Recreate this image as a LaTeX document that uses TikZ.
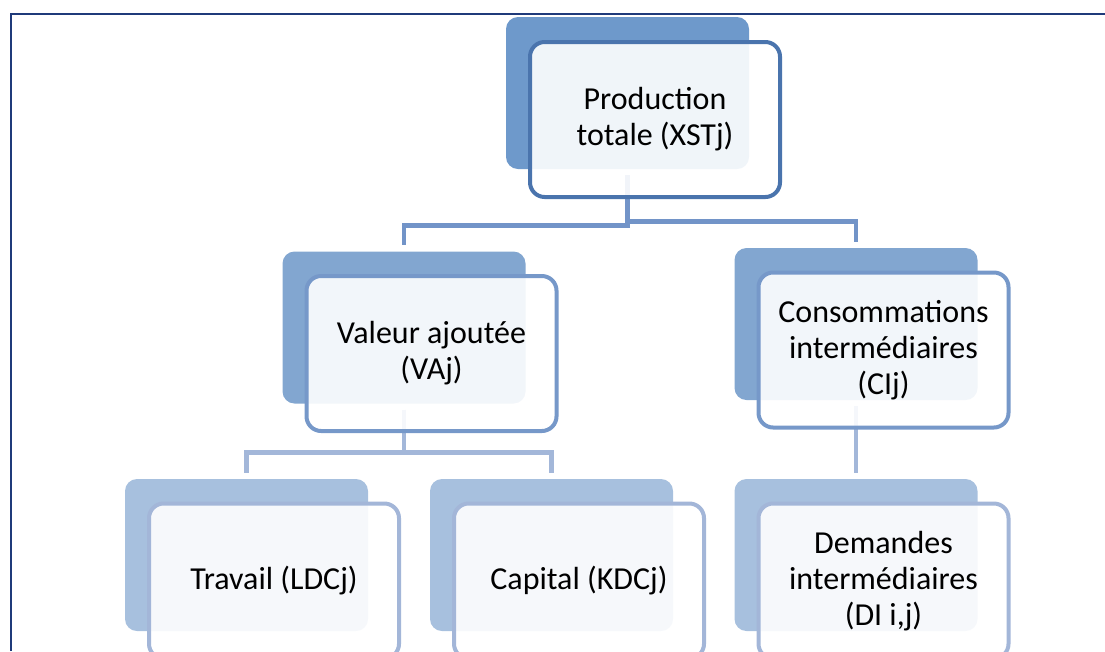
\documentclass[tikz,border=0pt]{standalone}
\usepackage{fontspec}
\setmainfont{Carlito}
\usetikzlibrary{calc}
\definecolor{frame}{HTML}{1F3A7A}
\definecolor{backA}{HTML}{6E99CB}
\definecolor{lineA}{HTML}{4A74AD}
\definecolor{backB}{HTML}{82A6D0}
\definecolor{lineB}{HTML}{7698C9}
\definecolor{backC}{HTML}{A7C0DE}
\definecolor{lineC}{HTML}{A3B6D8}
\definecolor{connA}{HTML}{7294C8}
\definecolor{connB}{HTML}{A3B7D9}
\begin{document}
\begin{tikzpicture}[x=0.75pt,y=-0.75pt,
 backbox/.style={rectangle, rounded corners=9pt, minimum width=182.25pt, minimum height=114pt, inner sep=0pt},
 frontbox/.style={rectangle, rounded corners=11pt, minimum width=187.5pt, minimum height=116.25pt, inner sep=0pt, line width=3pt, fill=white, fill opacity=0.9, text opacity=1, align=center, font=\fontsize{24}{27}\selectfont, text=black},
 conn/.style={line width=3.5pt}]
\useasboundingbox (0,0) rectangle (1105,651);
\begin{scope}
\clip (0,0) rectangle (1105,651);
\draw[frame, line width=1.5pt] (11,651) -- (11,14) -- (1105,14);
% back boxes
\node[backbox, fill=backA] (tb) at (627.5,93) {};
\node[backbox, fill=backB] (vb) at (404,327.5) {};
\node[backbox, fill=backB] (cb) at (856,324) {};
\node[backbox, fill=backC] (trb) at (246.5,555) {};
\node[backbox, fill=backC] (kb) at (551.5,555) {};
\node[backbox, fill=backC] (dib) at (856,555) {};
% connectors
\draw[conn, connA] ($(tb.south)+(0,6)$) |- ($(vb.north)+(0,-26)$) -- ($(vb.north)+(0,-6)$);
\draw[conn, connA] ($(tb.south)+(0,6)$) |- ($(cb.north)+(0,-26)$) -- ($(cb.north)+(0,-6)$);
\draw[conn, connB] ($(vb.south)+(0,6)$) |- ($(trb.north)+(0,-26)$) -- ($(trb.north)+(0,-6)$);
\draw[conn, connB] ($(vb.south)+(0,6)$) |- ($(kb.north)+(0,-26)$) -- ($(kb.north)+(0,-6)$);
\draw[conn, connB] ($(cb.south)+(0,6)$) -- ($(dib.north)+(0,-6)$);
% front boxes
\node[frontbox, draw=lineA] (t) at (655,119.5) {Production\\totale (XSTj)};
\node[frontbox, draw=lineB] (v) at (431.5,353.5) {Valeur ajoutée\\(VAj)};
\node[frontbox, draw=lineB] (c) at (883.5,350) {Consommations\\intermédiaires\\(CIj)};
\node[frontbox, draw=lineC] (tr) at (274,581) {Travail (LDCj)};
\node[frontbox, draw=lineC] (k) at (579,581) {Capital (KDCj)};
\node[frontbox, draw=lineC] (di) at (883.5,581) {Demandes\\intermédiaires\\(DI i,j)};
\end{scope}
\end{tikzpicture}
\end{document}
